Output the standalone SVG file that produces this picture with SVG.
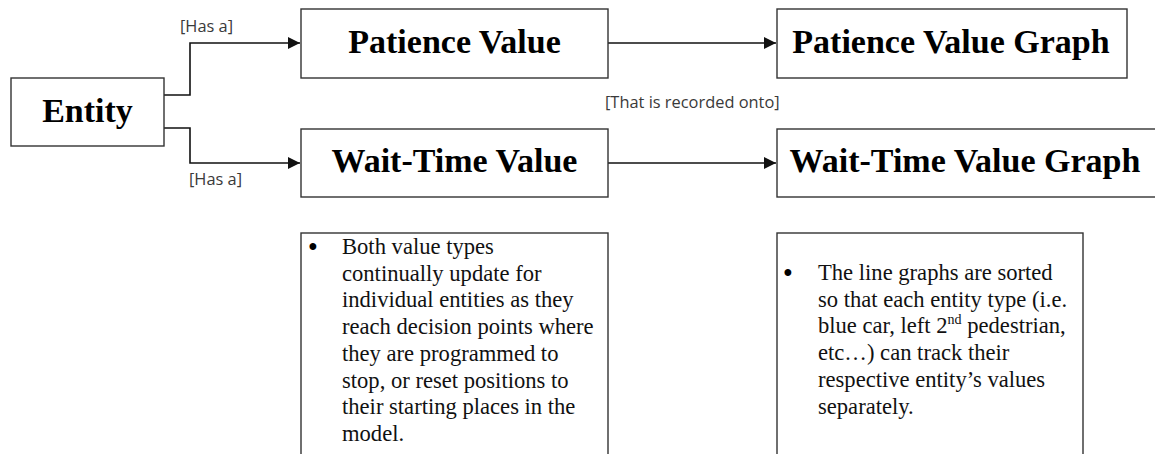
<svg xmlns="http://www.w3.org/2000/svg" width="1155" height="454" viewBox="0 0 1155 454">
<style>
.box{fill:#fff;stroke:#333;stroke-width:1.4}
.title{font-family:"Liberation Serif","Times New Roman",serif;font-weight:bold;font-size:34px;fill:#000;text-anchor:middle}
.lbl{font-family:"Open Sans","Liberation Sans",sans-serif;font-size:16.4px;fill:#3a3a3a}
.body{font-family:"Liberation Serif","Times New Roman",serif;font-size:22.6px;fill:#111}
.bul{font-family:"Liberation Sans",Arial,sans-serif;font-size:25px;fill:#000;text-anchor:middle}
.con{fill:none;stroke:#111;stroke-width:1.6}
</style>
<defs>
<marker id="arr" viewBox="0 0 12 12" refX="12" refY="6" markerWidth="12" markerHeight="12" markerUnits="userSpaceOnUse" orient="auto">
<path d="M0,0 L12,6 L0,12 Z" fill="#111"/>
</marker>
</defs>
<rect width="1155" height="454" fill="#fff"/>
<g id="connectors">
<path class="con" d="M164,95 H190 V43 H300" marker-end="url(#arr)"/>
<path class="con" d="M164,128 H190 V163 H300" marker-end="url(#arr)"/>
<path class="con" d="M608,43 H776" marker-end="url(#arr)"/>
<path class="con" d="M608,163 H776" marker-end="url(#arr)"/>
<text class="lbl" x="180" y="32">[Has a]</text>
<text class="lbl" x="189" y="185">[Has a]</text>
<text class="lbl" x="605" y="108">[That is recorded onto]</text>
</g>
<g id="entity">
<rect class="box" x="11" y="78" width="153" height="68"/>
<text class="title" x="87.5" y="122">Entity</text>
</g>
<g id="patience-value">
<rect class="box" x="301" y="9" width="307" height="69"/>
<text class="title" x="454.5" y="53">Patience Value</text>
</g>
<g id="wait-time-value">
<rect class="box" x="301" y="129" width="307" height="68"/>
<text class="title" x="454.5" y="172">Wait-Time Value</text>
</g>
<g id="patience-value-graph">
<rect class="box" x="777" y="9" width="350" height="69"/>
<text class="title" x="951" y="53">Patience Value Graph</text>
</g>
<g id="wait-time-value-graph">
<rect class="box" x="777" y="129" width="400" height="68"/>
<text class="title" x="965" y="172">Wait-Time Value Graph</text>
</g>
<g id="note-values">
<rect class="box" x="301" y="233" width="307" height="240"/>
<text class="bul" x="313" y="255">•</text>
<text class="body" x="342" y="254">Both value types</text>
<text class="body" x="342" y="280.7">continually update for</text>
<text class="body" x="342" y="307.4">individual entities as they</text>
<text class="body" x="342" y="334.1">reach decision points where</text>
<text class="body" x="342" y="360.8">they are programmed to</text>
<text class="body" x="342" y="387.5">stop, or reset positions to</text>
<text class="body" x="342" y="414.2">their starting places in the</text>
<text class="body" x="342" y="440.9">model.</text>
</g>
<g id="note-graphs">
<rect class="box" x="777" y="233" width="306" height="240"/>
<text class="bul" x="788" y="281">•</text>
<text class="body" x="818" y="280">The line graphs are sorted</text>
<text class="body" x="818" y="306.7">so that each entity type (i.e.</text>
<text class="body" x="818" y="333.4">blue car, left 2<tspan font-size="14" dy="-9">nd</tspan><tspan dy="9"> pedestrian,</tspan></text>
<text class="body" x="818" y="360.1">etc…) can track their</text>
<text class="body" x="818" y="386.8">respective entity’s values</text>
<text class="body" x="818" y="413.5">separately.</text>
</g>
</svg>
